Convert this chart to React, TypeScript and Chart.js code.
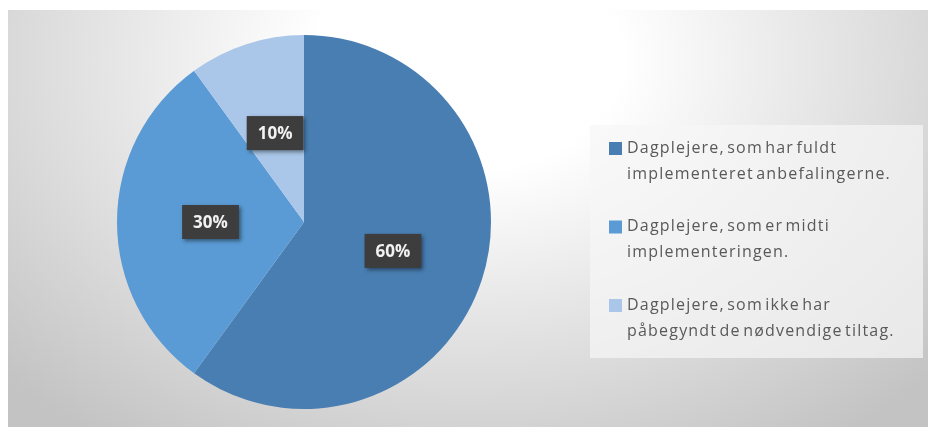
import { useEffect, useRef } from "react";
import { Chart, registerables } from "chart.js";
import type { Plugin } from "chart.js";

Chart.register(...registerables);

// categories (one line per array entry, as in the legend)
const categories: string[][] = [
  ["Dagplejere, som har fuldt", "implementeret anbefalingerne."],
  ["Dagplejere, som er midti", "implementeringen."],
  ["Dagplejere, som ikke har", "påbegyndt de nødvendige tiltag."],
];
const shares = [60, 30, 10];
const sliceColors = ["#497eb2", "#5a9bd5", "#aac6e8"];

// percentage boxes on the slices
const valueLabels: Plugin<"pie"> = {
  id: "valueLabels",
  afterDatasetsDraw(chart) {
    const { ctx } = chart;
    const meta = chart.getDatasetMeta(0);
    const total = shares.reduce((a, b) => a + b, 0);
    ctx.save();
    ctx.font = "bold 17px 'Open Sans'";
    ctx.textAlign = "center";
    ctx.textBaseline = "middle";
    meta.data.forEach((arc, i) => {
      const { x, y } = arc.tooltipPosition(false);
      const text = Math.round((shares[i] / total) * 100) + "%";
      const w = ctx.measureText(text).width + 22;
      const h = 34;
      ctx.shadowColor = "rgba(0,0,0,0.45)";
      ctx.shadowBlur = 4;
      ctx.shadowOffsetX = 2;
      ctx.shadowOffsetY = 2;
      ctx.fillStyle = "#3d3d3d";
      ctx.fillRect(x - w / 2, y - h / 2, w, h);
      ctx.shadowColor = "transparent";
      ctx.fillStyle = "#f2f2f2";
      ctx.fillText(text, x, y + 1);
    });
    ctx.restore();
  },
};

// legend box on the right
const sideLegend: Plugin<"pie"> = {
  id: "sideLegend",
  afterDraw(chart) {
    const { ctx } = chart;
    ctx.save();
    ctx.fillStyle = "rgba(246,246,246,0.7)";
    ctx.fillRect(582, 115, 333, 233);
    ctx.font = "16px 'Open Sans'";
    (ctx as any).letterSpacing = "1.2px";
    (ctx as any).wordSpacing = "-3px";
    ctx.textAlign = "left";
    ctx.textBaseline = "middle";
    categories.forEach((lines, i) => {
      const top = 138 + i * 78.5;
      ctx.fillStyle = sliceColors[i];
      ctx.fillRect(601, top - 6, 13, 13);
      ctx.fillStyle = "#595959";
      lines.forEach((line, j) => {
        ctx.fillText(line, 619, top + j * 26);
      });
    });
    ctx.restore();
  },
};

export default function App() {
  const canvasRef = useRef<HTMLCanvasElement>(null);
  const chartRef = useRef<Chart<"pie"> | null>(null);

  useEffect(() => {
    if (!canvasRef.current) return;
    chartRef.current?.destroy();

    chartRef.current = new Chart(canvasRef.current, {
      type: "pie",
      data: {
        labels: categories,
        datasets: [
          {
            data: shares,
            backgroundColor: sliceColors,
            borderWidth: 0,
            hoverOffset: 0,
          },
        ],
      },
      options: {
        animation: false,
        responsive: true,
        maintainAspectRatio: false,
        layout: { padding: { left: 109, right: 445, top: 25, bottom: 18 } },
        plugins: {
          legend: { display: false },
          tooltip: { enabled: false },
        },
      },
      plugins: [valueLabels, sideLegend],
    });

    return () => {
      chartRef.current?.destroy();
    };
  }, []);

  return (
    <div
      style={{
        position: "relative",
        width: 928,
        height: 417,
        marginTop: 2,
        background:
          "radial-gradient(ellipse 640px 460px at 460px 50px, #ffffff 0%, #ffffff 24%, #e6e6e6 55%, #c3c3c3 100%)",
      }}
    >
      <canvas ref={canvasRef} />
    </div>
  );
}
